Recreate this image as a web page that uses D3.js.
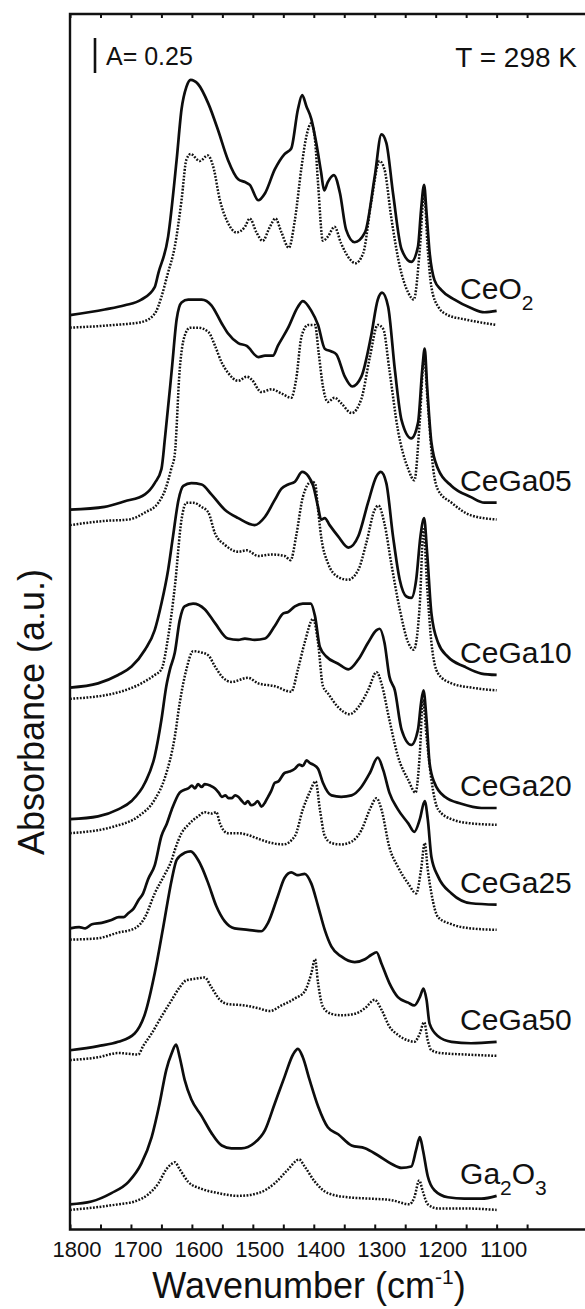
<!DOCTYPE html>
<html>
<head>
<meta charset="utf-8">
<script src="https://cdn.jsdelivr.net/npm/d3@7"></script>
<style>
  body { margin: 0; background: #fff; }
  svg { display: block; font-family: "Liberation Sans", Arial, Helvetica, sans-serif; }
</style>
</head>
<body>
<svg id="chart" width="585" height="1309"></svg>
<script>
// sample names, top to bottom (single digits are drawn as subscripts)
var sampleNames = ["CeO2", "CeGa05", "CeGa10", "CeGa20", "CeGa25", "CeGa50", "Ga2O3"];

// x axis ticks (cm-1)
var xTickValues = [1800, 1750, 1700, 1650, 1600, 1550, 1500, 1450, 1400, 1350, 1300, 1250, 1200, 1150, 1100, 1050];
var xTickLabels = [1800, 1700, 1600, 1500, 1400, 1300, 1200, 1100];

// spectra: [wavenumber, absorbance incl. stacking offset]
var ceo2Solid = [[1800,6.53],[1743,6.57],[1710,6.60],[1683,6.64],[1661,6.73],[1655,6.83],[1639,7.09],[1625,7.64],[1617,8.00],[1609,8.16],[1602,8.21],[1590,8.18],[1573,8.04],[1557,7.85],[1541,7.64],[1524,7.50],[1513,7.48],[1505,7.46],[1491,7.35],[1480,7.40],[1464,7.57],[1448,7.68],[1437,7.72],[1426,8.00],[1419,8.10],[1412,8.02],[1404,7.93],[1396,7.76],[1388,7.55],[1383,7.42],[1377,7.48],[1367,7.53],[1357,7.40],[1347,7.14],[1333,7.05],[1316,7.12],[1300,7.52],[1289,7.82],[1281,7.76],[1270,7.40],[1256,7.00],[1240,6.91],[1229,7.02],[1224,7.28],[1219,7.46],[1215,7.26],[1210,6.98],[1202,6.78],[1191,6.71],[1169,6.64],[1142,6.58],[1120,6.55],[1100,6.56]];
var ceo2Dotted = [[1800,6.44],[1726,6.46],[1683,6.48],[1661,6.54],[1650,6.66],[1640,6.82],[1628,7.02],[1617,7.35],[1609,7.64],[1602,7.68],[1587,7.63],[1574,7.67],[1565,7.59],[1554,7.35],[1541,7.19],[1527,7.12],[1513,7.16],[1505,7.22],[1494,7.12],[1484,7.06],[1472,7.16],[1463,7.22],[1453,7.12],[1441,7.01],[1431,7.21],[1420,7.59],[1412,7.81],[1404,7.90],[1398,7.78],[1393,7.47],[1385,7.06],[1377,7.09],[1366,7.16],[1355,7.04],[1341,6.93],[1332,6.90],[1319,6.97],[1306,7.33],[1292,7.63],[1284,7.57],[1273,7.23],[1259,6.88],[1245,6.69],[1236,6.64],[1226,7.00],[1219,7.40],[1213,7.00],[1207,6.73],[1196,6.59],[1180,6.53],[1153,6.50],[1100,6.46]];

var ceGa05Solid = [[1800,5.14],[1743,5.16],[1710,5.20],[1677,5.25],[1661,5.33],[1650,5.43],[1644,5.66],[1633,6.14],[1625,6.50],[1617,6.62],[1606,6.64],[1584,6.64],[1568,6.60],[1551,6.47],[1541,6.40],[1524,6.33],[1510,6.31],[1491,6.23],[1480,6.24],[1467,6.24],[1459,6.31],[1442,6.44],[1426,6.59],[1418,6.63],[1404,6.56],[1393,6.46],[1382,6.29],[1371,6.27],[1363,6.25],[1349,6.09],[1337,6.02],[1322,6.09],[1306,6.38],[1295,6.64],[1288,6.69],[1278,6.59],[1267,6.14],[1256,5.78],[1240,5.65],[1229,5.76],[1222,6.14],[1218,6.29],[1214,6.02],[1207,5.62],[1196,5.43],[1174,5.31],[1142,5.23],[1120,5.19],[1100,5.19]];
var ceGa05Dotted = [[1800,5.03],[1743,5.06],[1704,5.07],[1677,5.12],[1655,5.19],[1644,5.28],[1634,5.43],[1628,5.54],[1620,6.14],[1612,6.38],[1603,6.44],[1590,6.44],[1573,6.41],[1562,6.31],[1551,6.19],[1541,6.12],[1524,6.06],[1510,6.09],[1502,6.07],[1486,5.98],[1469,6.00],[1453,5.97],[1437,5.94],[1429,6.07],[1420,6.38],[1409,6.46],[1398,6.46],[1392,6.26],[1385,6.02],[1377,5.91],[1366,5.94],[1355,5.90],[1338,5.83],[1322,5.93],[1308,6.23],[1295,6.46],[1286,6.43],[1276,6.14],[1262,5.71],[1245,5.43],[1235,5.35],[1226,5.78],[1219,6.23],[1213,5.90],[1204,5.43],[1196,5.28],[1174,5.19],[1142,5.10],[1100,5.07]];

var ceGa10Solid = [[1800,3.87],[1754,3.90],[1721,3.96],[1699,4.02],[1677,4.14],[1661,4.28],[1650,4.47],[1639,4.71],[1631,4.95],[1622,5.21],[1614,5.31],[1601,5.33],[1584,5.32],[1568,5.25],[1546,5.14],[1524,5.08],[1497,5.03],[1480,5.09],[1464,5.21],[1453,5.29],[1442,5.32],[1431,5.34],[1419,5.41],[1409,5.38],[1401,5.31],[1393,5.16],[1388,5.07],[1382,5.08],[1374,5.03],[1360,4.95],[1343,4.87],[1327,4.95],[1311,5.19],[1297,5.38],[1290,5.41],[1281,5.33],[1270,4.95],[1259,4.64],[1248,4.52],[1240,4.51],[1232,4.64],[1225,4.95],[1219,5.08],[1214,4.83],[1207,4.40],[1196,4.19],[1180,4.09],[1153,4.02],[1125,3.97],[1100,3.96]];
var ceGa10Dotted = [[1800,3.79],[1726,3.83],[1683,3.90],[1661,3.96],[1650,4.00],[1639,4.23],[1628,4.59],[1617,5.07],[1609,5.19],[1598,5.19],[1584,5.16],[1573,5.12],[1562,4.97],[1546,4.89],[1524,4.84],[1510,4.85],[1491,4.81],[1469,4.82],[1448,4.81],[1438,4.78],[1429,4.95],[1418,5.23],[1404,5.34],[1398,5.33],[1393,5.14],[1388,4.95],[1377,4.76],[1360,4.66],[1344,4.64],[1327,4.71],[1314,4.90],[1300,5.14],[1294,5.17],[1284,5.04],[1273,4.76],[1259,4.43],[1245,4.19],[1236,4.14],[1226,4.47],[1220,5.00],[1214,4.59],[1207,4.19],[1196,3.97],[1174,3.90],[1142,3.87],[1100,3.85]];

var ceGa20Solid = [[1800,2.93],[1754,2.95],[1721,3.00],[1699,3.06],[1677,3.19],[1661,3.38],[1650,3.64],[1642,3.88],[1636,4.00],[1628,4.12],[1620,4.35],[1612,4.45],[1598,4.47],[1579,4.43],[1562,4.33],[1541,4.22],[1524,4.21],[1513,4.22],[1497,4.21],[1480,4.22],[1464,4.31],[1450,4.40],[1442,4.41],[1431,4.45],[1418,4.47],[1405,4.47],[1398,4.38],[1390,4.16],[1379,4.09],[1360,4.04],[1343,4.00],[1327,4.07],[1311,4.19],[1297,4.28],[1292,4.29],[1284,4.19],[1276,3.95],[1267,3.85],[1256,3.57],[1240,3.46],[1229,3.57],[1224,3.76],[1220,3.85],[1215,3.64],[1210,3.33],[1202,3.19],[1185,3.09],[1158,3.04],[1125,3.01],[1100,3.01]];
var ceGa20Dotted = [[1800,2.83],[1726,2.88],[1688,2.95],[1661,3.07],[1644,3.23],[1628,3.52],[1620,3.76],[1609,4.00],[1598,4.13],[1584,4.12],[1573,4.10],[1562,4.02],[1551,3.95],[1535,3.91],[1508,3.94],[1491,3.90],[1464,3.88],[1437,3.84],[1426,4.00],[1415,4.19],[1401,4.36],[1393,4.19],[1385,3.88],[1377,3.83],[1360,3.73],[1341,3.68],[1327,3.73],[1311,3.85],[1297,3.98],[1289,3.90],[1276,3.64],[1262,3.38],[1245,3.21],[1233,3.12],[1226,3.40],[1221,3.78],[1215,3.52],[1207,3.21],[1196,3.00],[1174,2.93],[1142,2.90],[1100,2.89]];

var ceGa25Solid = [[1800,2.15],[1785,2.16],[1775,2.15],[1764,2.18],[1748,2.19],[1732,2.21],[1720,2.23],[1712,2.23],[1704,2.26],[1696,2.29],[1688,2.35],[1680,2.40],[1672,2.50],[1661,2.60],[1650,2.81],[1641,2.90],[1633,3.00],[1620,3.12],[1612,3.14],[1606,3.15],[1600,3.17],[1595,3.15],[1590,3.18],[1584,3.16],[1579,3.18],[1570,3.17],[1562,3.15],[1556,3.12],[1551,3.09],[1545,3.10],[1540,3.08],[1535,3.08],[1529,3.10],[1524,3.09],[1518,3.06],[1513,3.04],[1508,3.06],[1503,3.03],[1497,3.04],[1492,3.06],[1486,3.02],[1480,3.05],[1475,3.09],[1470,3.13],[1464,3.19],[1458,3.20],[1448,3.26],[1440,3.27],[1431,3.29],[1424,3.32],[1418,3.31],[1412,3.35],[1406,3.33],[1401,3.32],[1393,3.29],[1385,3.19],[1371,3.10],[1355,3.09],[1338,3.10],[1322,3.16],[1308,3.26],[1295,3.37],[1286,3.28],[1276,3.12],[1262,3.00],[1245,2.90],[1235,2.84],[1226,2.93],[1218,3.06],[1213,2.93],[1207,2.66],[1196,2.52],[1174,2.40],[1142,2.33],[1100,2.32]];
var ceGa25Dotted = [[1800,2.07],[1754,2.08],[1721,2.12],[1694,2.15],[1677,2.23],[1661,2.40],[1644,2.54],[1633,2.64],[1628,2.71],[1617,2.83],[1606,2.89],[1590,2.95],[1579,2.98],[1568,2.97],[1560,2.98],[1554,2.90],[1541,2.83],[1524,2.83],[1510,2.82],[1491,2.79],[1469,2.76],[1450,2.75],[1431,2.81],[1418,3.00],[1407,3.12],[1397,3.20],[1390,3.00],[1382,2.81],[1371,2.76],[1355,2.75],[1338,2.77],[1322,2.85],[1308,3.00],[1297,3.08],[1289,3.00],[1276,2.73],[1262,2.59],[1245,2.47],[1232,2.40],[1224,2.57],[1218,2.76],[1213,2.57],[1207,2.40],[1196,2.23],[1174,2.18],[1142,2.15],[1100,2.14]];

var ceGa50Solid = [[1800,1.28],[1754,1.31],[1721,1.34],[1694,1.40],[1677,1.54],[1661,1.83],[1647,2.16],[1633,2.50],[1625,2.64],[1612,2.69],[1602,2.70],[1590,2.64],[1584,2.59],[1573,2.47],[1560,2.31],[1546,2.20],[1530,2.15],[1508,2.14],[1486,2.13],[1475,2.19],[1459,2.38],[1448,2.51],[1437,2.55],[1426,2.53],[1415,2.54],[1404,2.47],[1393,2.31],[1382,2.14],[1371,2.02],[1355,1.95],[1333,1.91],[1316,1.93],[1306,1.96],[1297,1.98],[1289,1.90],[1276,1.76],[1262,1.66],[1245,1.62],[1235,1.60],[1226,1.66],[1220,1.72],[1215,1.64],[1210,1.47],[1196,1.38],[1174,1.34],[1142,1.33],[1100,1.34]];
var ceGa50Dotted = [[1800,1.21],[1754,1.23],[1721,1.26],[1688,1.25],[1680,1.31],[1666,1.40],[1650,1.52],[1633,1.64],[1620,1.73],[1609,1.78],[1595,1.79],[1579,1.80],[1568,1.73],[1554,1.64],[1541,1.61],[1513,1.60],[1491,1.58],[1472,1.56],[1453,1.60],[1431,1.65],[1415,1.70],[1404,1.83],[1398,1.93],[1393,1.76],[1385,1.59],[1371,1.54],[1355,1.53],[1333,1.54],[1316,1.58],[1300,1.64],[1289,1.57],[1276,1.45],[1262,1.39],[1245,1.35],[1235,1.34],[1226,1.40],[1219,1.48],[1213,1.35],[1207,1.28],[1191,1.26],[1153,1.25],[1100,1.24]];

var ga2o3Solid = [[1800,0.18],[1765,0.20],[1732,0.26],[1704,0.34],[1683,0.47],[1666,0.66],[1653,0.90],[1642,1.14],[1633,1.26],[1626,1.32],[1620,1.23],[1612,1.07],[1601,0.93],[1584,0.81],[1568,0.69],[1551,0.60],[1535,0.58],[1519,0.58],[1497,0.62],[1480,0.71],[1464,0.90],[1448,1.09],[1434,1.25],[1426,1.29],[1418,1.23],[1407,1.07],[1393,0.88],[1377,0.73],[1360,0.68],[1338,0.60],[1316,0.58],[1295,0.53],[1273,0.47],[1256,0.44],[1240,0.45],[1232,0.57],[1226,0.66],[1221,0.57],[1213,0.38],[1202,0.28],[1180,0.23],[1153,0.22],[1125,0.22],[1100,0.24]];
var ga2o3Dotted = [[1800,0.14],[1754,0.16],[1721,0.18],[1694,0.20],[1672,0.25],[1655,0.33],[1642,0.43],[1633,0.47],[1628,0.48],[1620,0.43],[1606,0.34],[1584,0.29],[1557,0.26],[1524,0.24],[1491,0.26],[1464,0.33],[1442,0.43],[1424,0.50],[1415,0.45],[1398,0.34],[1377,0.26],[1344,0.23],[1306,0.22],[1273,0.21],[1243,0.18],[1235,0.23],[1227,0.35],[1221,0.27],[1213,0.18],[1196,0.15],[1153,0.15],[1100,0.14]];

var solidSeries = [ceo2Solid, ceGa05Solid, ceGa10Solid, ceGa20Solid, ceGa25Solid, ceGa50Solid, ga2o3Solid];
var dottedSeries = [ceo2Dotted, ceGa05Dotted, ceGa10Dotted, ceGa20Dotted, ceGa25Dotted, ceGa50Dotted, ga2o3Dotted];

var scaleBarValue = 0.25;

var svgW = 585, svgH = 1309;
var frameLeft = 70, frameTop = 14, frameBottom = 1229.5;

var svg = d3.select("#chart");
svg.append("rect").attr("width", svgW).attr("height", svgH).attr("fill", "#fff");

// scales: 1800 sits on the left frame, the axis runs off the right edge of the picture
var x = d3.scaleLinear().domain([1800, 955]).range([frameLeft, svgW]);
var y = d3.scaleLinear().domain([0, 8.68]).range([frameBottom, frameTop]);

var line = d3.line()
  .x(function(d) { return x(d[0]); })
  .y(function(d) { return y(d[1]); })
  .curve(d3.curveMonotoneX);

// dotted traces first, solid on top
dottedSeries.forEach(function(s) {
  svg.append("path")
    .datum(s)
    .attr("d", line)
    .attr("fill", "none")
    .attr("stroke", "#111")
    .attr("stroke-width", 2.5)
    .attr("stroke-dasharray", "1.8,1.5");
});

solidSeries.forEach(function(s) {
  svg.append("path")
    .datum(s)
    .attr("d", line)
    .attr("fill", "none")
    .attr("stroke", "#0d0d0d")
    .attr("stroke-width", 2.7)
    .attr("stroke-linejoin", "round");
});

// frame (no right side, it is cut off by the picture)
svg.append("path")
  .attr("d", "M" + svgW + "," + frameTop + "H" + frameLeft + "V" + frameBottom + "H" + svgW)
  .attr("fill", "none")
  .attr("stroke", "#111")
  .attr("stroke-width", 2.4);

// inward ticks on bottom and top
var bottomAxis = d3.axisBottom(x).tickValues(xTickValues).tickSize(-5).tickFormat("");
var topAxis = d3.axisTop(x).tickValues(xTickValues).tickSize(-4).tickFormat("");

var gb = svg.append("g").attr("transform", "translate(0," + frameBottom + ")").call(bottomAxis);
var gt = svg.append("g").attr("transform", "translate(0," + frameTop + ")").call(topAxis);
[gb, gt].forEach(function(g) {
  g.select(".domain").remove();
  g.selectAll(".tick line").attr("stroke", "#111").attr("stroke-width", 2);
});

// tick labels
svg.append("g").selectAll("text")
  .data(xTickLabels)
  .enter().append("text")
  .attr("x", function(d) { return x(d) + 7; })
  .attr("y", frameBottom + 27.5)
  .attr("text-anchor", "middle")
  .style("font-size", "22px")
  .attr("fill", "#111")
  .text(function(d) { return d; });

// axis titles
var xt = svg.append("text")
  .attr("x", 309)
  .attr("y", 1298)
  .attr("text-anchor", "middle")
  .style("font-size", "36px")
  .attr("fill", "#111");
xt.append("tspan").text("Wavenumber (cm");
xt.append("tspan").attr("dy", -14).style("font-size", "21px").text("-1");
xt.append("tspan").attr("dy", 14).text(")");

svg.append("text")
  .attr("transform", "translate(44,712) rotate(-90)")
  .attr("text-anchor", "middle")
  .style("font-size", "36px")
  .attr("fill", "#111")
  .text("Absorbance (a.u.)");

// scale bar and temperature
var barTop = 38;
svg.append("line")
  .attr("x1", 95).attr("x2", 95)
  .attr("y1", barTop)
  .attr("y2", barTop + (y(0) - y(scaleBarValue)))
  .attr("stroke", "#111")
  .attr("stroke-width", 2.6);

svg.append("text")
  .attr("x", 106).attr("y", 65)
  .style("font-size", "25px")
  .attr("fill", "#111")
  .text("A= " + scaleBarValue);

svg.append("text")
  .attr("x", 577).attr("y", 67)
  .attr("text-anchor", "end")
  .style("font-size", "28px")
  .attr("fill", "#111")
  .text("T = 298 K");

// sample labels next to the end of each solid trace
sampleNames.forEach(function(name, i) {
  var s = solidSeries[i];
  var end = s[s.length - 1];
  var t = svg.append("text")
    .attr("x", x(1160))
    .attr("y", y(end[1]) - 12)
    .style("font-size", "30px")
    .attr("fill", "#111");
  var parts = name.match(/[A-Za-z]+|\d+/g);
  var shifted = false;
  parts.forEach(function(p) {
    var isSub = /^\d$/.test(p);
    var ts = t.append("tspan").text(p);
    if (isSub) {
      ts.attr("dy", 11).style("font-size", "21px");
      shifted = true;
    } else if (shifted) {
      ts.attr("dy", -11);
      shifted = false;
    }
  });
});
</script>
</body>
</html>
